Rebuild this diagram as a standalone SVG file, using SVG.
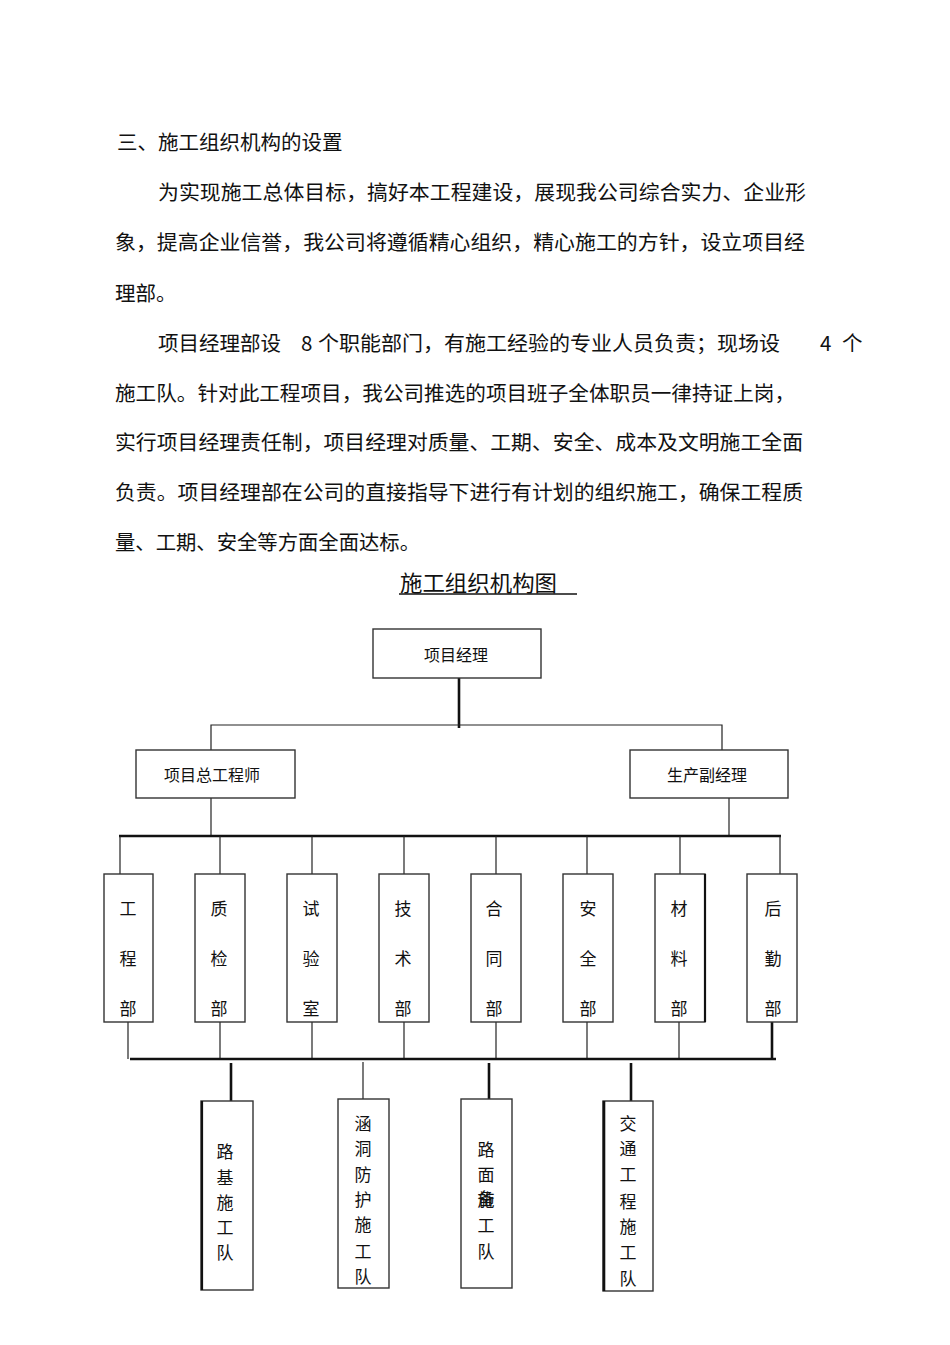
<svg xmlns="http://www.w3.org/2000/svg" width="950" height="1345" viewBox="0 0 950 1345">
<style>
text{font-family:"Noto Sans CJK SC","Noto Sans",sans-serif;fill:#111;dominant-baseline:central}
.p{font-size:20.5px}
.b{font-size:16px;text-anchor:middle}
.v{font-size:17px;text-anchor:middle}
.box{fill:#fff;stroke:#333;stroke-width:1.4}
.ln{stroke:#222;stroke-width:1.2;fill:none}
.tk{stroke:#111;stroke-width:2.6;fill:none}
</style>
<rect width="950" height="1345" fill="#fff"/>
<g id="body">
<text class="p" x="117" y="141">三、施工组织机构的设置</text>
<text class="p" x="158" y="191" textLength="648" lengthAdjust="spacingAndGlyphs">为实现施工总体目标，搞好本工程建设，展现我公司综合实力、企业形</text>
<text class="p" x="115" y="241" textLength="690" lengthAdjust="spacingAndGlyphs">象，提高企业信誉，我公司将遵循精心组织，精心施工的方针，设立项目经</text>
<text class="p" x="115" y="292">理部。</text>
<text class="p" y="342"><tspan x="158">项目经理部设</tspan><tspan x="301">8</tspan><tspan x="318" textLength="462" lengthAdjust="spacingAndGlyphs">个职能部门，有施工经验的专业人员负责；现场设</tspan><tspan x="820">4</tspan><tspan x="842">个</tspan></text>
<text class="p" x="115" y="392" textLength="680" lengthAdjust="spacingAndGlyphs">施工队。针对此工程项目，我公司推选的项目班子全体职员一律持证上岗，</text>
<text class="p" x="115" y="441" textLength="688" lengthAdjust="spacingAndGlyphs">实行项目经理责任制，项目经理对质量、工期、安全、成本及文明施工全面</text>
<text class="p" x="115" y="491" textLength="688" lengthAdjust="spacingAndGlyphs">负责。项目经理部在公司的直接指导下进行有计划的组织施工，确保工程质</text>
<text class="p" x="115" y="541" textLength="305" lengthAdjust="spacingAndGlyphs">量、工期、安全等方面全面达标。</text>
</g>
<g id="title">
<text x="400" y="581" style="font-size:22px" textLength="157" lengthAdjust="spacingAndGlyphs">施工组织机构图</text>
<line x1="399" y1="594" x2="577" y2="594" stroke="#111" stroke-width="1.5"/>
</g>
<g id="connectors">
<line class="tk" x1="459" y1="678" x2="459" y2="728"/>
<polyline class="ln" points="211,750 211,725 722,725 722,750"/>
<line class="ln" x1="211" y1="798" x2="211" y2="836"/>
<line class="ln" x1="729" y1="798" x2="729" y2="836"/>
<line class="tk" x1="119" y1="836" x2="781" y2="836"/>
<line class="ln" x1="120" y1="836" x2="120" y2="874"/>
<line class="ln" x1="220" y1="836" x2="220" y2="874"/>
<line class="ln" x1="312" y1="836" x2="312" y2="874"/>
<line class="ln" x1="404" y1="836" x2="404" y2="874"/>
<line class="ln" x1="496" y1="836" x2="496" y2="874"/>
<line class="ln" x1="587" y1="836" x2="587" y2="874"/>
<line class="ln" x1="680" y1="836" x2="680" y2="874"/>
<line class="ln" x1="780" y1="836" x2="780" y2="874"/>
<line class="ln" x1="128" y1="1022" x2="128" y2="1059"/>
<line class="ln" x1="220" y1="1022" x2="220" y2="1059"/>
<line class="ln" x1="312" y1="1022" x2="312" y2="1059"/>
<line class="ln" x1="404" y1="1022" x2="404" y2="1059"/>
<line class="ln" x1="496" y1="1022" x2="496" y2="1059"/>
<line class="ln" x1="587" y1="1022" x2="587" y2="1059"/>
<line class="ln" x1="679" y1="1022" x2="679" y2="1059"/>
<line class="tk" x1="772" y1="1022" x2="772" y2="1060"/>
<line class="tk" x1="130" y1="1059" x2="776" y2="1059"/>
<line class="tk" x1="231" y1="1063" x2="231" y2="1101"/>
<line class="ln" x1="363" y1="1062" x2="363" y2="1099"/>
<line class="tk" x1="489" y1="1063" x2="489" y2="1099"/>
<line class="tk" x1="631" y1="1063" x2="631" y2="1101"/>
</g>
<g id="n-pm"><rect class="box" x="373" y="629" width="168" height="49"/><text class="b" x="456" y="654">项目经理</text></g>
<g id="n-chief"><rect class="box" x="136" y="750" width="159" height="48"/><text class="b" x="212" y="774">项目总工程师</text></g>
<g id="n-deputy"><rect class="box" x="630" y="750" width="158" height="48"/><text class="b" x="707" y="774">生产副经理</text></g>
<g id="d1"><rect class="box" x="104" y="874" width="49" height="148"/><text class="v" x="128" y="907">工</text><text class="v" x="128" y="957">程</text><text class="v" x="128" y="1007">部</text></g>
<g id="d2"><rect class="box" x="195" y="874" width="50" height="148"/><text class="v" x="219" y="907">质</text><text class="v" x="219" y="957">检</text><text class="v" x="219" y="1007">部</text></g>
<g id="d3"><rect class="box" x="287" y="874" width="50" height="148"/><text class="v" x="311" y="907">试</text><text class="v" x="311" y="957">验</text><text class="v" x="311" y="1007">室</text></g>
<g id="d4"><rect class="box" x="379" y="874" width="50" height="148"/><text class="v" x="403" y="907">技</text><text class="v" x="403" y="957">术</text><text class="v" x="403" y="1007">部</text></g>
<g id="d5"><rect class="box" x="471" y="874" width="50" height="148"/><text class="v" x="494" y="907">合</text><text class="v" x="494" y="957">同</text><text class="v" x="494" y="1007">部</text></g>
<g id="d6"><rect class="box" x="563" y="874" width="50" height="148"/><text class="v" x="588" y="907">安</text><text class="v" x="588" y="957">全</text><text class="v" x="588" y="1007">部</text></g>
<g id="d7"><rect class="box" x="655" y="874" width="50" height="148"/><line x1="705" y1="874" x2="705" y2="1022" stroke="#111" stroke-width="2.2"/><text class="v" x="679" y="907">材</text><text class="v" x="679" y="957">料</text><text class="v" x="679" y="1007">部</text></g>
<g id="d8"><rect class="box" x="747" y="874" width="50" height="148"/><text class="v" x="773" y="907">后</text><text class="v" x="773" y="957">勤</text><text class="v" x="773" y="1007">部</text></g>
<g id="t1"><rect class="box" x="201" y="1101" width="52" height="189"/><line x1="202" y1="1101" x2="202" y2="1290" stroke="#111" stroke-width="2.2"/><text class="v" x="225" y="1150">路</text><text class="v" x="225" y="1176">基</text><text class="v" x="225" y="1201">施</text><text class="v" x="225" y="1226">工</text><text class="v" x="225" y="1251">队</text></g>
<g id="t2"><rect class="box" x="338" y="1099" width="51" height="189"/><text class="v" x="363" y="1122">涵</text><text class="v" x="363" y="1147">洞</text><text class="v" x="363" y="1173">防</text><text class="v" x="363" y="1198">护</text><text class="v" x="363" y="1223">施</text><text class="v" x="363" y="1250">工</text><text class="v" x="363" y="1275">队</text></g>
<g id="t3"><rect class="box" x="461" y="1099" width="51" height="189"/><text class="v" x="486" y="1148">路</text><text class="v" x="486" y="1173">面</text><text class="v" x="486" y="1197">备</text><text class="v" x="486" y="1198">施</text><text class="v" x="486" y="1224">工</text><text class="v" x="486" y="1250">队</text></g>
<g id="t4"><rect class="box" x="603" y="1101" width="50" height="190"/><line x1="604" y1="1101" x2="604" y2="1291" stroke="#111" stroke-width="2.6"/><text class="v" x="628" y="1122">交</text><text class="v" x="628" y="1147">通</text><text class="v" x="628" y="1173">工</text><text class="v" x="628" y="1200">程</text><text class="v" x="628" y="1225">施</text><text class="v" x="628" y="1251">工</text><text class="v" x="628" y="1277">队</text></g>
</svg>
